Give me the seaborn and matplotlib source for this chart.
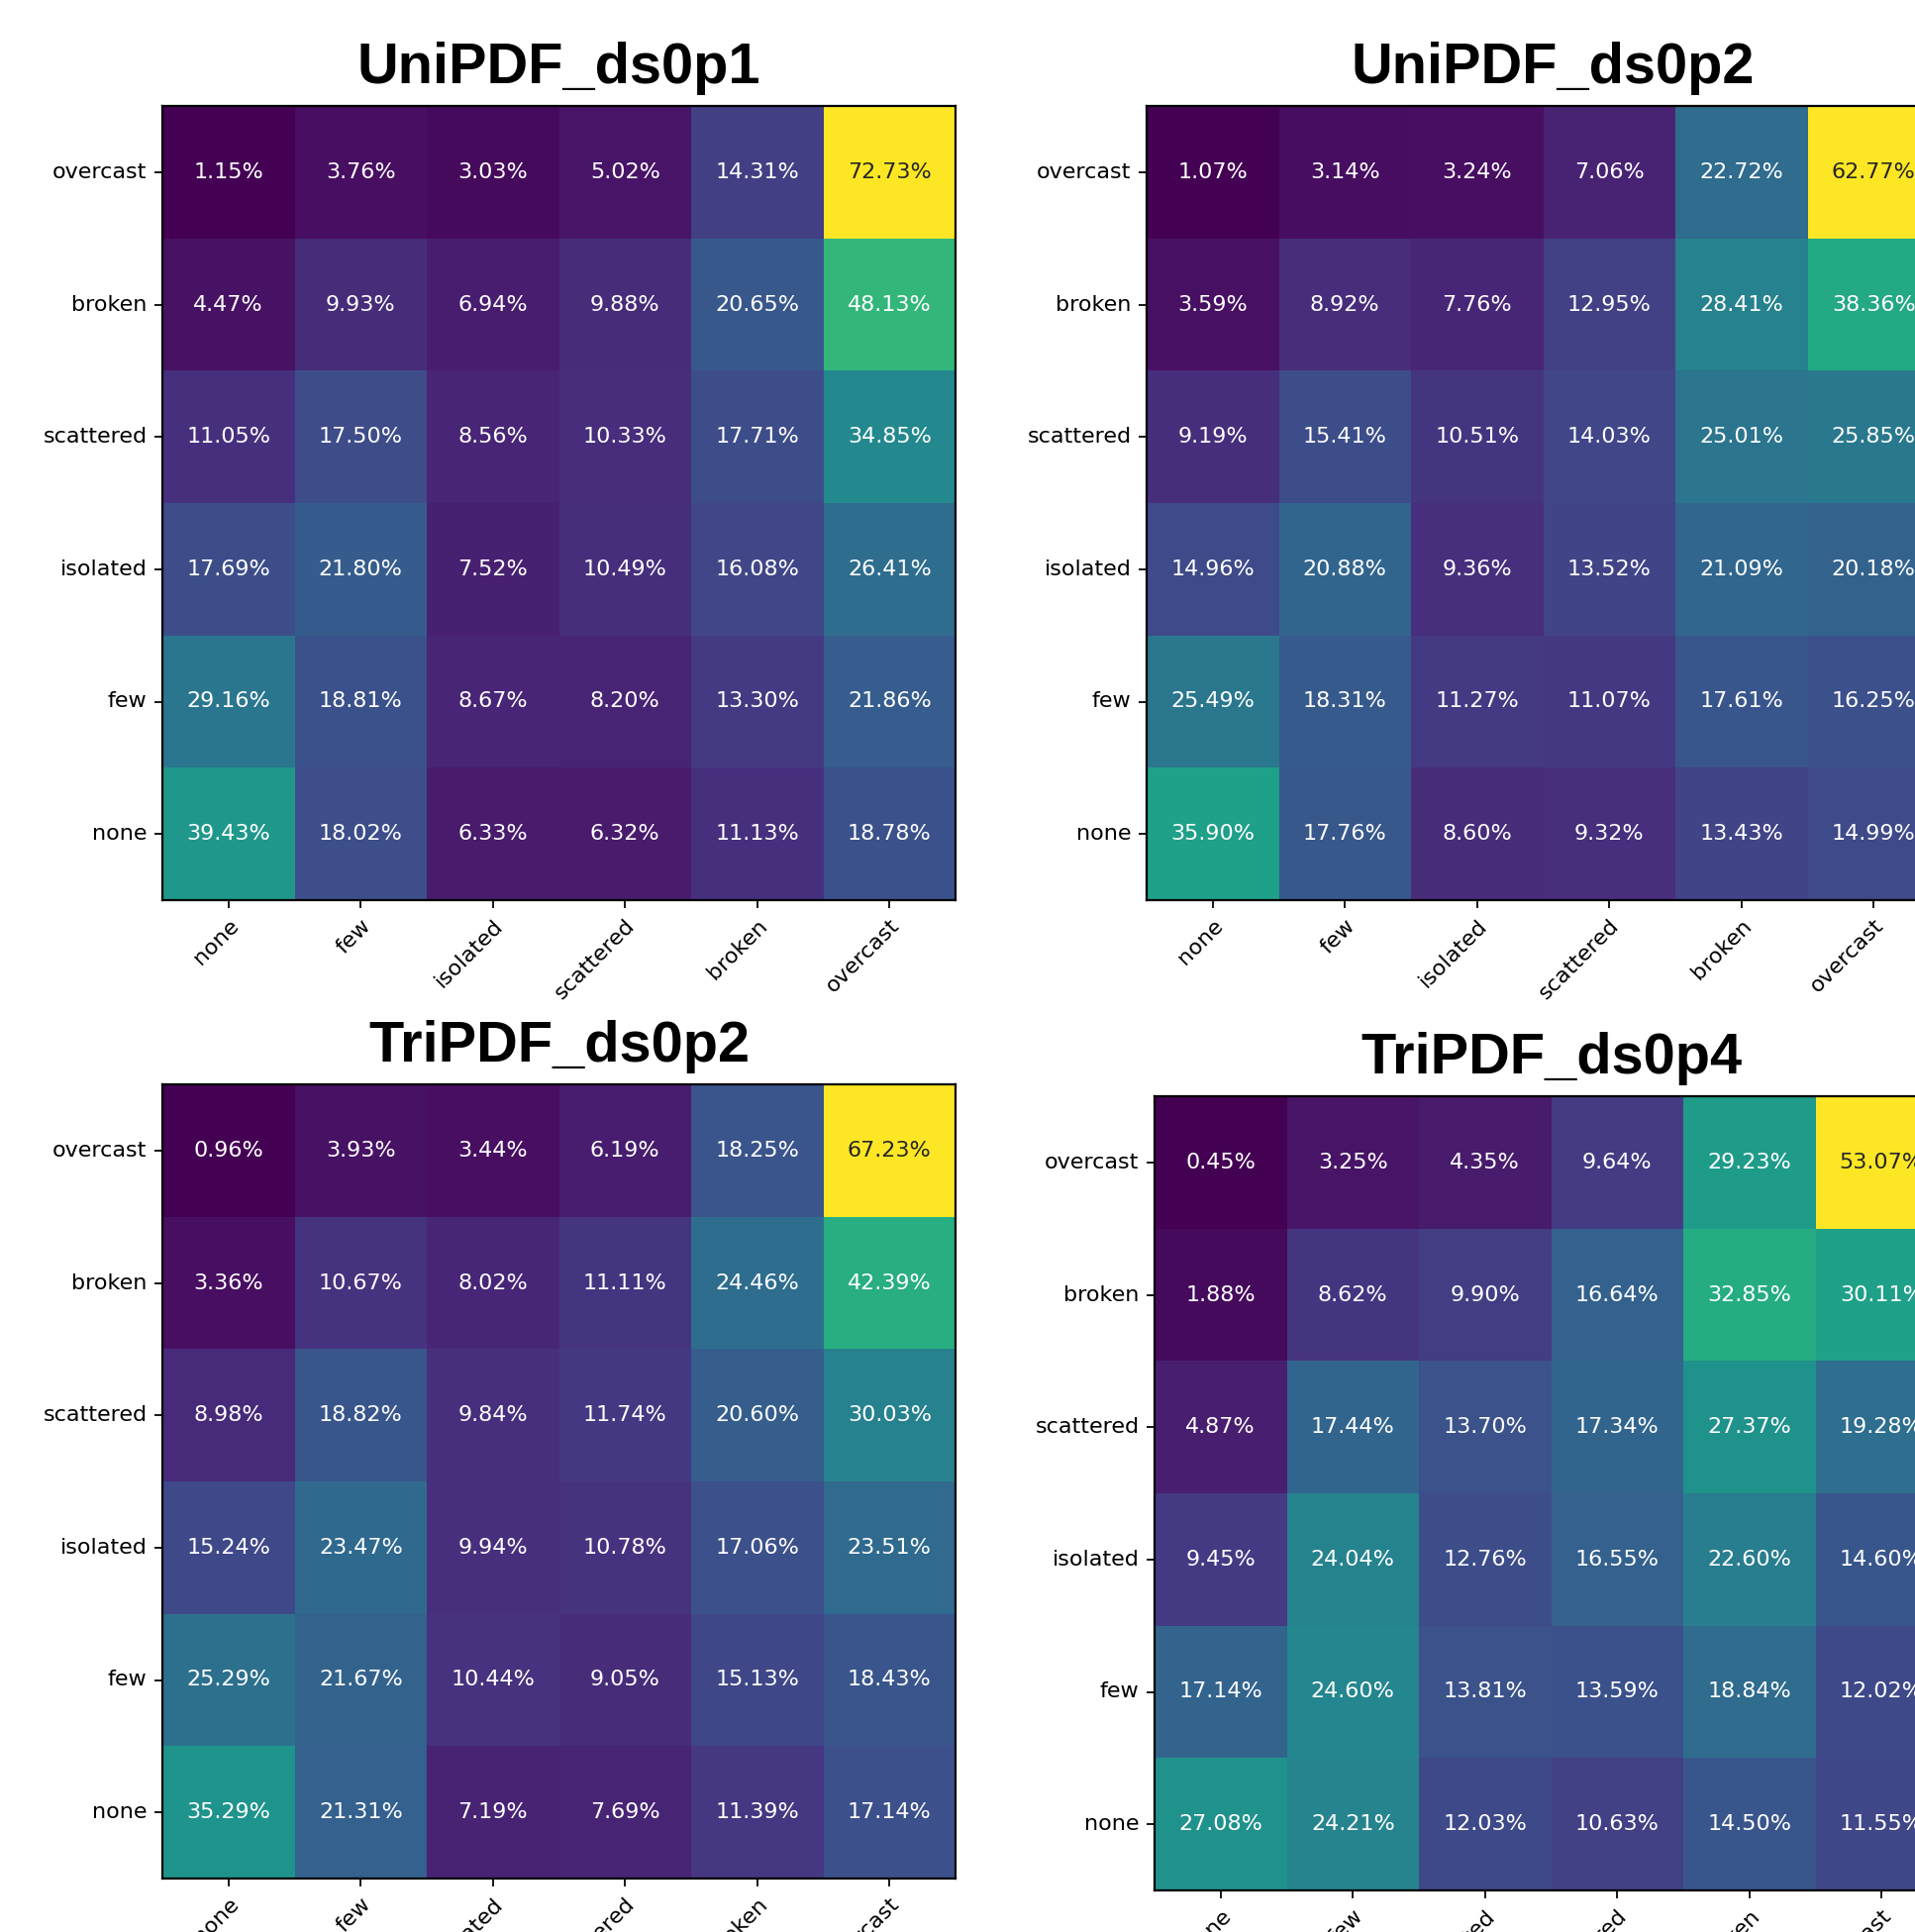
import numpy as np
import pandas as pd
import seaborn as sns
import matplotlib
matplotlib.use("Agg")
import matplotlib.pyplot as plt

# cloud categories (columns left->right, rows top->bottom)
cols = ["none", "few", "isolated", "scattered", "broken", "overcast"]
rows = ["overcast", "broken", "scattered", "isolated", "few", "none"]

titles = ["UniPDF_ds0p1", "UniPDF_ds0p2", "TriPDF_ds0p2", "TriPDF_ds0p4"]

# row-normalised percentages
uni_ds0p1 = [
    [1.15, 3.76, 3.03, 5.02, 14.31, 72.73],
    [4.47, 9.93, 6.94, 9.88, 20.65, 48.13],
    [11.05, 17.50, 8.56, 10.33, 17.71, 34.85],
    [17.69, 21.80, 7.52, 10.49, 16.08, 26.41],
    [29.16, 18.81, 8.67, 8.20, 13.30, 21.86],
    [39.43, 18.02, 6.33, 6.32, 11.13, 18.78],
]
uni_ds0p2 = [
    [1.07, 3.14, 3.24, 7.06, 22.72, 62.77],
    [3.59, 8.92, 7.76, 12.95, 28.41, 38.36],
    [9.19, 15.41, 10.51, 14.03, 25.01, 25.85],
    [14.96, 20.88, 9.36, 13.52, 21.09, 20.18],
    [25.49, 18.31, 11.27, 11.07, 17.61, 16.25],
    [35.90, 17.76, 8.60, 9.32, 13.43, 14.99],
]
tri_ds0p2 = [
    [0.96, 3.93, 3.44, 6.19, 18.25, 67.23],
    [3.36, 10.67, 8.02, 11.11, 24.46, 42.39],
    [8.98, 18.82, 9.84, 11.74, 20.60, 30.03],
    [15.24, 23.47, 9.94, 10.78, 17.06, 23.51],
    [25.29, 21.67, 10.44, 9.05, 15.13, 18.43],
    [35.29, 21.31, 7.19, 7.69, 11.39, 17.14],
]
tri_ds0p4 = [
    [0.45, 3.25, 4.35, 9.64, 29.23, 53.07],
    [1.88, 8.62, 9.90, 16.64, 32.85, 30.11],
    [4.87, 17.44, 13.70, 17.34, 27.37, 19.28],
    [9.45, 24.04, 12.76, 16.55, 22.60, 14.60],
    [17.14, 24.60, 13.81, 13.59, 18.84, 12.02],
    [27.08, 24.21, 12.03, 10.63, 14.50, 11.55],
]

# axes boxes in figure fractions [left, bottom, width, height]
W, H = 1934, 1951
boxes = [
    [164 / W, (H - 909) / H, 801 / W, 802 / H],
    [1158 / W, (H - 909) / H, 801 / W, 802 / H],
    [164 / W, (H - 1897) / H, 801 / W, 802 / H],
    [1166 / W, (H - 1909) / H, 801 / W, 802 / H],
]
title_x = [0.5, 0.512, 0.5, 0.5]

fig = plt.figure(figsize=(W / 160, H / 160), dpi=160)

for title, data, box, tx in zip(titles, [uni_ds0p1, uni_ds0p2, tri_ds0p2, tri_ds0p4], boxes, title_x):
    ax = fig.add_axes(box)
    df = pd.DataFrame(data, index=rows, columns=cols)
    labels = df.map(lambda v: "%.2f%%" % v)
    sns.heatmap(df, ax=ax, cmap="viridis", cbar=False, annot=labels, fmt="",
                annot_kws={"fontsize": 10})
    for s in ax.spines.values():
        s.set_visible(True)
        s.set_color("black")
        s.set_linewidth(1.0)
    ax.tick_params(axis="both", length=3.5, width=0.8, left=True, bottom=True,
                   labelsize=10)
    ax.set_xticklabels(cols, rotation=45, ha="right", rotation_mode="anchor")
    ax.set_yticklabels(rows, rotation=0, va="center")
    ax.set_xlabel("")
    ax.set_ylabel("")
    ax.set_title(title, fontsize=26, fontweight="bold", x=tx,
                 family=["Liberation Sans", "DejaVu Sans"], pad=10.5)

fig.savefig("out.png", dpi=160)
